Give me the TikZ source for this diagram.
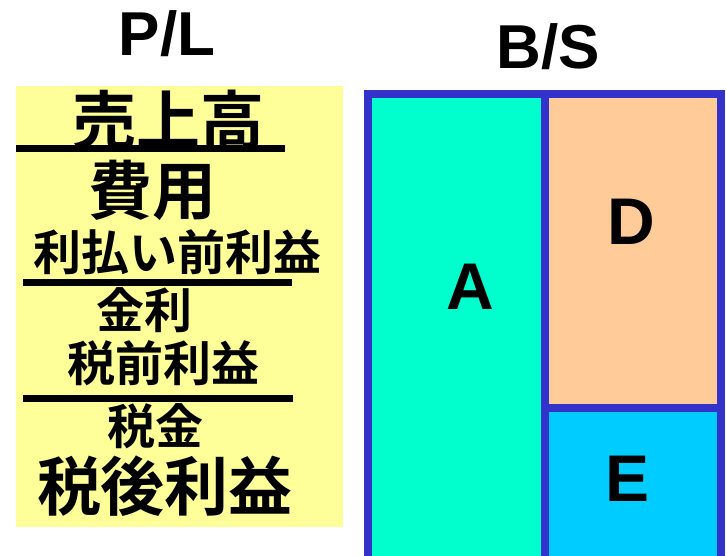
\documentclass[tikz,border=0pt]{standalone}
\usepackage{fontspec}
\setmainfont{Liberation Sans}
\newfontfamily\jp{Noto Sans CJK JP}[BoldFont={* Bold}]
\definecolor{plyellow}{HTML}{FFFF99}
\definecolor{acolor}{HTML}{00FFCC}
\definecolor{dcolor}{HTML}{FFCC99}
\definecolor{ecolor}{HTML}{00CCFF}
\definecolor{frame}{HTML}{3333CC}
\tikzset{
  title/.style={font=\bfseries\fontsize{62}{62}\selectfont, inner sep=0pt},
  bigjp/.style={font=\jp\bfseries\fontsize{64}{64}\selectfont, inner sep=0pt},
  smalljp/.style={font=\jp\bfseries\fontsize{48}{48}\selectfont, inner sep=0pt},
  letter/.style={font=\bfseries\fontsize{66}{66}\selectfont, inner sep=0pt},
  rule/.style={line width=7pt, black},
  bsline/.style={line width=8pt, frame},
}
\begin{document}
\begin{tikzpicture}[x=1pt, y=-1pt]
\useasboundingbox (0,0) rectangle (726,555);
\clip (0,0) rectangle (726,555);
% P/L panel
\fill[plyellow] (16,86) rectangle (343,527);
\node[title] (pl) at (167,34) {P/L};
\node[bigjp] (sales) at (168,120) {売上高};
\node[bigjp] (cost) at (152,190) {費用};
\node[smalljp] (ebit) at (178,252) {利払い前利益};
\node[smalljp] (interest) at (144,310) {金利};
\node[smalljp] (ebt) at (163,363) {税前利益};
\node[smalljp] (tax) at (155,426) {税金};
\node[bigjp] (net) at (165,486) {税後利益};
\coordinate (r1a) at (16,148.5); \coordinate (r1b) at (285,148.5);
\coordinate (r2a) at (23,282.5); \coordinate (r2b) at (292,282.5);
\coordinate (r3a) at (23,398);   \coordinate (r3b) at (293,398);
\draw[rule, line width=6.5pt] (r1a) -- (r1b);
\draw[rule] (r2a) -- (r2b);
\draw[rule] (r3a) -- (r3b);
% B/S panel
\node[title] (bs) at (548,47) {B/S};
\fill[acolor] (368,94) rectangle (544.5,570);
\fill[dcolor] (544.5,94) rectangle (721,407.5);
\fill[ecolor] (544.5,407.5) rectangle (721,570);
\coordinate (tl) at (368,94); \coordinate (tr) at (721,94);
\coordinate (bl) at (368,570); \coordinate (br) at (721,570);
\coordinate (tm) at (544.5,94); \coordinate (bm) at (544.5,570);
\coordinate (ml) at (544.5,407.5); \coordinate (mr) at (721,407.5);
\draw[bsline] (bl) -- (tl) -- (tr) -- (br);
\draw[bsline] (tm) -- (bm);
\draw[bsline] (ml) -- (mr);
\node[letter] (A) at (470,287) {A};
\node[letter] (D) at (631,222) {D};
\node[letter] (E) at (628,479) {E};
\end{tikzpicture}
\end{document}
